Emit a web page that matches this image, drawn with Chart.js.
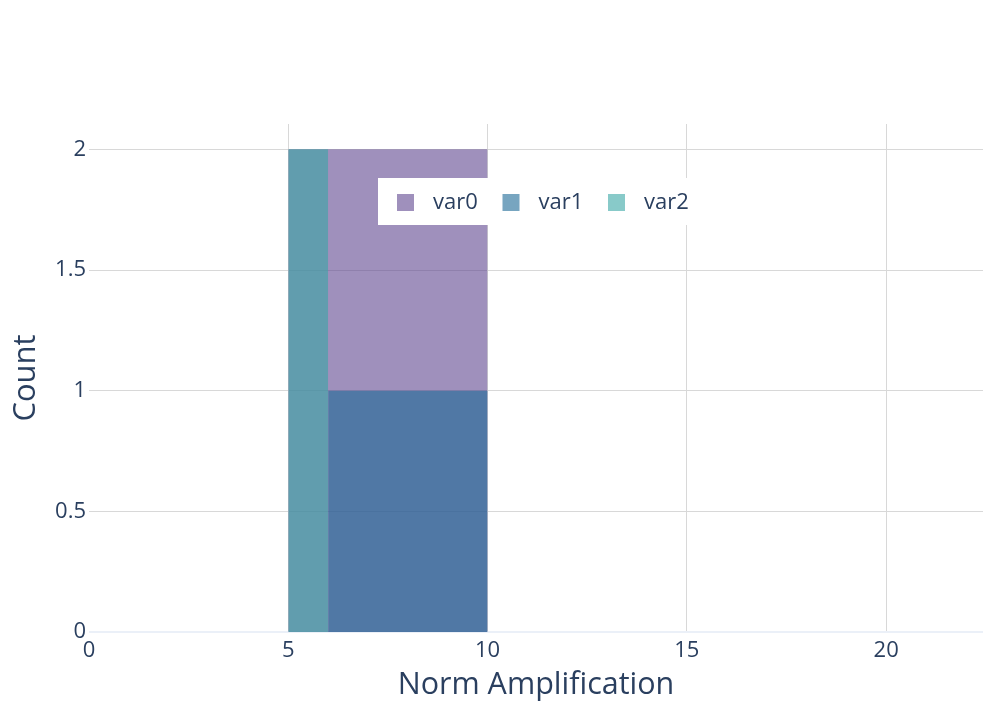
<!DOCTYPE html>
<html>
<head>
<meta charset="utf-8">
<script src="https://cdn.jsdelivr.net/npm/chart.js@4"></script>
<style>
  html, body { margin: 0; padding: 0; background: #ffffff; }
  #wrap { width: 997px; height: 712px; position: relative; }
</style>
</head>
<body>
<div id="wrap"><canvas id="c"></canvas></div>
<script>
// ---- data ----
const seriesNames = ['var0', 'var1', 'var2'];
const var0Edges = [5, 10];
const var0Counts = [2];
const var1Edges = [6, 8, 10];
const var1Counts = [1, 1];
const var2Edges = [5, 6];
const var2Counts = [2];
const xTickValues = [0, 5, 10, 15, 20];
const yTickValues = [0, 0.5, 1, 1.5, 2];
const xTitle = 'Norm Amplification';
const yTitle = 'Count';

// ---- style ----
const seriesColors = ['rgba(95,70,144,0.6)', 'rgba(29,105,150,0.6)', 'rgba(56,166,165,0.6)'];
const textColor = '#2a3f5f';
const FONT = "'Open Sans', 'Liberation Sans', Arial, sans-serif";

function histPoints(edges, counts) {
  const pts = [{x: edges[0], y: 0}];
  for (let i = 0; i < counts.length; i++) {
    pts.push({x: edges[i], y: counts[i]});
    pts.push({x: edges[i + 1], y: counts[i]});
  }
  pts.push({x: edges[edges.length - 1], y: 0});
  return pts;
}

const allEdges = [var0Edges, var1Edges, var2Edges];
const allCounts = [var0Counts, var1Counts, var2Counts];

const datasets = seriesNames.map((name, i) => ({
  label: name,
  data: histPoints(allEdges[i], allCounts[i]),
  backgroundColor: seriesColors[i],
  borderColor: 'transparent',
  borderWidth: 0,
  pointRadius: 0,
  pointHoverRadius: 0,
  tension: 0,
  fill: 'origin',
  order: seriesNames.length - i
}));

const legendPlugin = {
  id: 'plotlyLegend',
  afterDatasetsDraw(chart) {
    const ctx = chart.ctx;
    ctx.save();
    ctx.fillStyle = '#ffffff';
    ctx.fillRect(378, 178, 330, 47);
    const ds = chart.data.datasets;
    ctx.font = '22px ' + FONT;
    ctx.textBaseline = 'middle';
    ctx.textAlign = 'left';
    for (let i = 0; i < ds.length; i++) {
      const x0 = 397 + i * 105.5;
      ctx.fillStyle = ds[i].backgroundColor;
      ctx.fillRect(x0, 194, 17, 17);
      ctx.fillStyle = textColor;
      ctx.fillText(ds[i].label, x0 + 36, 203);
    }
    ctx.restore();
  }
};

new Chart(document.getElementById('c'), {
  type: 'line',
  data: { datasets },
  plugins: [legendPlugin],
  options: {
    responsive: true,
    maintainAspectRatio: false,
    animation: false,
    layout: { padding: { left: 0, top: 124, right: 14, bottom: 0 } },
    plugins: {
      legend: { display: false },
      tooltip: { enabled: false }
    },
    scales: {
      x: {
        type: 'linear',
        min: 0,
        max: 22.43,
        afterBuildTicks: (s) => { s.ticks = xTickValues.map(v => ({ value: v })); },
        afterFit: (s) => { s.height = 712 - 632; },
        border: { display: false },
        grid: {
          drawTicks: false,
          color: (c) => (c.tick && c.tick.value === 0) ? 'rgba(0,0,0,0)' : '#d8d8d8',
          lineWidth: 1
        },
        ticks: {
          color: textColor,
          font: { family: FONT, size: 22 },
          padding: 6,
          maxRotation: 0,
          autoSkip: false,
          callback: (v) => String(v)
        },
        title: {
          display: true,
          text: xTitle,
          color: textColor,
          font: { family: FONT, size: 30.5 },
          padding: { top: 0, bottom: 8 }
        }
      },
      y: {
        type: 'linear',
        min: 0,
        max: 2.105,
        afterBuildTicks: (s) => { s.ticks = yTickValues.map(v => ({ value: v })); },
        afterFit: (s) => { s.width = 89; },
        border: { display: false },
        grid: {
          drawTicks: false,
          color: (c) => (c.tick && c.tick.value === 0) ? '#ebf0f8' : '#d8d8d8',
          lineWidth: (c) => (c.tick && c.tick.value === 0) ? 2 : 1
        },
        ticks: {
          color: textColor,
          font: { family: FONT, size: 22 },
          padding: 3,
          callback: (v) => String(v)
        },
        title: {
          display: true,
          text: yTitle,
          color: textColor,
          font: { family: FONT, size: 31 },
          padding: { top: 8, bottom: 0 }
        }
      }
    }
  }
});
</script>
</body>
</html>
